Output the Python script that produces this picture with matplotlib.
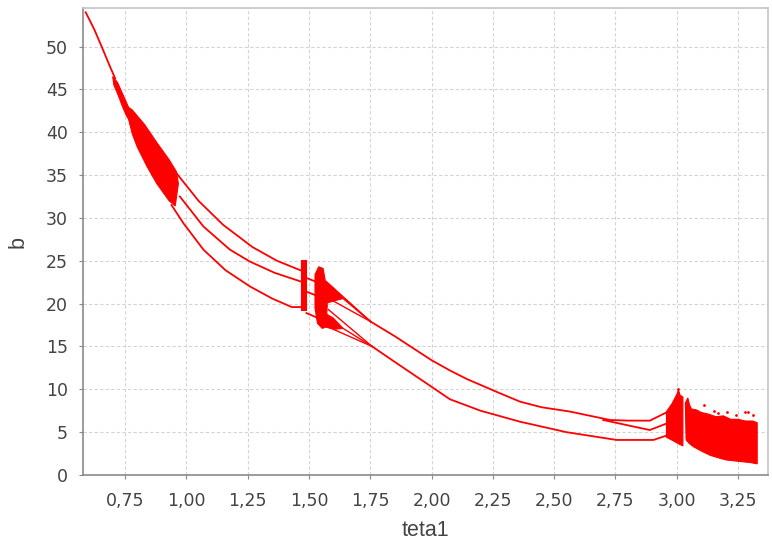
import matplotlib.pyplot as plt
from matplotlib.ticker import MultipleLocator, FuncFormatter

# period-1 branch at small teta1
p1_x = [0.59, 0.625, 0.655, 0.69, 0.71]
p1_y = [54.0, 52.0, 50.0, 47.6, 46.3]

# first chaotic band (outline)
chaos1_x = [0.70, 0.72, 0.745, 0.765, 0.78, 0.83, 0.88, 0.93, 0.96, 0.968,
            0.955, 0.93, 0.88, 0.84, 0.80, 0.78, 0.765, 0.755, 0.74, 0.72, 0.705]
chaos1_y = [46.5, 45.8, 44.2, 42.9, 42.6, 40.9, 38.8, 36.8, 35.4, 34.0,
            31.4, 32.0, 34.0, 36.0, 38.3, 39.8, 41.5, 42.0, 43.0, 44.5, 45.5]

# period-3 window, three branches
up_x = [0.955, 1.05, 1.15, 1.27, 1.37, 1.465]
up_y = [35.4, 32.0, 29.2, 26.6, 25.0, 23.9]
mid_x = [0.974, 1.07, 1.178, 1.26, 1.36, 1.465]
mid_y = [32.5, 29.0, 26.3, 24.9, 23.6, 22.6]
low_x = [0.94, 0.988, 1.07, 1.16, 1.26, 1.35, 1.43, 1.47]
low_y = [31.5, 29.4, 26.3, 23.9, 22.0, 20.6, 19.6, 19.6]

# vertical burst at 1.47
bar_x = [1.468, 1.49, 1.49, 1.468]
bar_y = [25.1, 25.1, 19.2, 19.2]

# short pieces between burst and second band
link_x0 = [1.49, 1.49, 1.49]
link_y0 = [23.0, 21.4, 18.9]
link_x1 = [1.525, 1.525, 1.555]
link_y1 = [22.6, 21.0, 18.1]

# second chaotic band and its side patches
chaos2_x = [1.525, 1.54, 1.558, 1.568, 1.575, 1.57, 1.555, 1.535, 1.525]
chaos2_y = [23.4, 24.3, 24.1, 22.5, 19.8, 17.3, 17.1, 17.7, 19.5]
patch_a_x = [1.565, 1.60, 1.64, 1.60, 1.565]
patch_a_y = [22.6, 21.8, 20.6, 20.3, 20.0]
patch_b_x = [1.565, 1.60, 1.64, 1.60, 1.565]
patch_b_y = [18.9, 18.3, 17.1, 17.0, 17.3]

# fans merging into period-2
fan_up_x = [1.57, 1.60, 1.64, 1.60]
fan_up_y = [22.6, 21.6, 20.6, 20.3]
fan_up_end = (1.752, 17.9)
fan_low_x = [1.58, 1.64, 1.60]
fan_low_y = [19.3, 17.1, 17.0]
fan_low_end = (1.758, 15.0)

# period-2 branches
p2a_x = [1.752, 1.85, 2.0, 2.075, 2.144, 2.279, 2.361, 2.45, 2.565, 2.728, 2.80, 2.89, 2.958]
p2a_y = [17.9, 16.2, 13.4, 12.2, 11.2, 9.54, 8.56, 7.9, 7.4, 6.42, 6.35, 6.34, 7.3]
p2m_x = [2.70, 2.80, 2.89, 2.958]
p2m_y = [6.42, 5.8, 5.25, 6.0]
p2b_x = [1.758, 1.85, 2.0, 2.075, 2.2, 2.361, 2.55, 2.755, 2.905, 2.958]
p2b_y = [15.0, 13.2, 10.3, 8.84, 7.5, 6.22, 5.0, 4.09, 4.09, 4.6]

# chaos at large teta1
chaos3a_x = [2.958, 2.98, 3.0, 3.007, 3.014, 3.025, 3.025, 3.01, 2.985, 2.958]
chaos3a_y = [7.4, 8.3, 9.4, 9.9, 9.3, 9.1, 3.4, 3.6, 4.0, 4.4]
chaos3b_x = [3.035, 3.045, 3.052, 3.06, 3.08, 3.10, 3.13, 3.16, 3.19, 3.22, 3.25, 3.28, 3.31, 3.328,
             3.328, 3.30, 3.25, 3.203, 3.17, 3.136, 3.10, 3.068, 3.05, 3.038]
chaos3b_y = [8.4, 9.0, 8.2, 7.7, 7.6, 7.3, 7.1, 6.8, 6.9, 6.5, 6.5, 6.3, 6.3, 6.1,
             1.3, 1.45, 1.6, 1.75, 2.0, 2.3, 2.8, 3.3, 3.7, 4.1]
dots_x = [3.113, 3.15, 3.17, 3.204, 3.24, 3.279, 3.292, 3.31, 3.003]
dots_y = [8.2, 7.5, 7.2, 7.4, 7.0, 7.4, 7.4, 7.0, 10.0]

RED = '#ff0000'

fig = plt.figure(figsize=(7.72, 5.46), dpi=100)
ax = fig.add_axes([83 / 772, 1 - 475 / 546, 685 / 772, 467 / 546])

lw = 1.3
for xs, ys in [(p1_x, p1_y), (up_x, up_y), (mid_x, mid_y), (low_x, low_y),
               (p2a_x, p2a_y), (p2m_x, p2m_y), (p2b_x, p2b_y)]:
    ax.plot(xs, ys, color=RED, lw=lw, zorder=3)
for xs, ys in [(chaos1_x, chaos1_y), (bar_x, bar_y), (chaos2_x, chaos2_y),
               (patch_a_x, patch_a_y), (patch_b_x, patch_b_y),
               (chaos3a_x, chaos3a_y), (chaos3b_x, chaos3b_y)]:
    ax.fill(xs, ys, color=RED, lw=0.8, zorder=3)
for x0, y0, x1, y1 in zip(link_x0, link_y0, link_x1, link_y1):
    ax.plot([x0, x1], [y0, y1], color=RED, lw=lw, zorder=3)
for x0, y0 in zip(fan_up_x, fan_up_y):
    ax.plot([x0, fan_up_end[0]], [y0, fan_up_end[1]], color=RED, lw=1.0, zorder=3)
for x0, y0 in zip(fan_low_x, fan_low_y):
    ax.plot([x0, fan_low_end[0]], [y0, fan_low_end[1]], color=RED, lw=1.0, zorder=3)
ax.scatter(dots_x, dots_y, s=4, color=RED, zorder=3, linewidths=0)

ax.set_xlim(0.579, 3.372)
ax.set_ylim(0, 54.5)
ax.xaxis.set_major_locator(MultipleLocator(0.25))
ax.yaxis.set_major_locator(MultipleLocator(5))
ax.xaxis.set_major_formatter(FuncFormatter(lambda v, p: f'{v:.2f}'.replace('.', ',')))
ax.yaxis.set_major_formatter(FuncFormatter(lambda v, p: f'{v:.0f}'))

ax.grid(True, color='#d4d4d4', linestyle=(0, (3, 2)), lw=0.8, zorder=0)
ax.set_axisbelow(True)
for s in ['left', 'bottom']:
    ax.spines[s].set_color('#8a8a8a')
    ax.spines[s].set_linewidth(1.2)
for s in ['top', 'right']:
    ax.spines[s].set_color('#c4c4c4')
    ax.spines[s].set_linewidth(1.2)

ax.tick_params(axis='both', direction='out', length=3, width=0.8, color='#8a8a8a',
               labelcolor='#444444', labelsize=12.5)
ax.tick_params(axis='y', pad=8)
ax.tick_params(axis='x', pad=9.5)
ax.set_xlabel('teta1', fontsize=15.5, color='#444444', labelpad=7,
              family=['Liberation Sans', 'DejaVu Sans'])
ax.set_ylabel('b', fontsize=15.5, color='#444444', labelpad=12,
              family=['Liberation Sans', 'DejaVu Sans'])

fig.savefig('out.png', dpi=100)
